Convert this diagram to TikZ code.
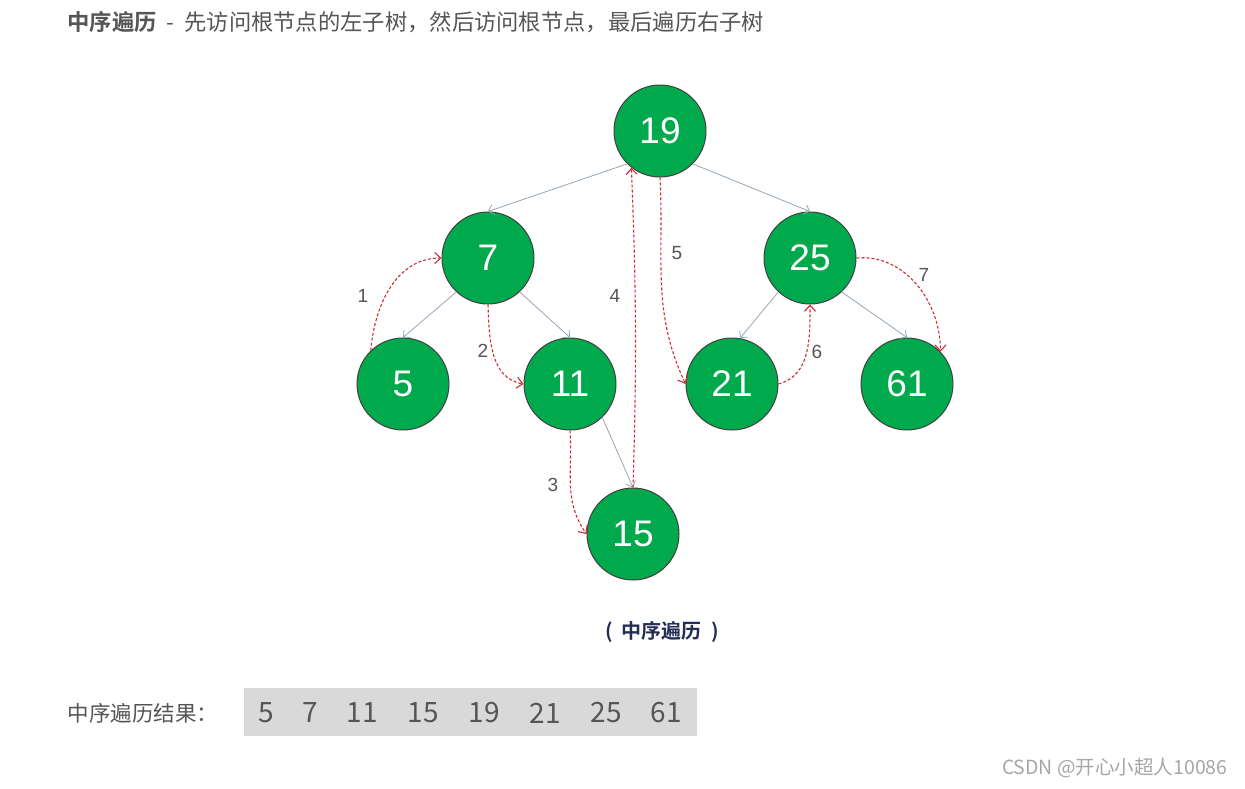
\documentclass[tikz,border=0pt]{standalone}
\usepackage{fontspec}
\setmainfont{Liberation Sans}
\newfontfamily\cjk[BoldFont={Noto Sans CJK SC Bold}]{Noto Sans CJK SC}
\usetikzlibrary{arrows.meta}
\definecolor{nodegreen}{RGB}{0,170,76}
\definecolor{edgegray}{RGB}{150,165,180}
\definecolor{walkred}{RGB}{205,45,55}
\definecolor{txtgray}{RGB}{85,85,85}
\definecolor{capnavy}{RGB}{35,45,85}
\definecolor{boxgray}{RGB}{217,217,217}

\begin{document}
\begin{tikzpicture}[x=1pt, y=1pt,
    treenode/.style={circle, draw=black!75, line width=1pt, fill=nodegreen,
        minimum size=92pt, inner sep=0pt, text=white,
        font=\fontsize{37}{37}\selectfont},
    edge/.style={draw=edgegray, line width=0.8pt,
        -{Straight Barb[length=5pt,width=10pt]}},
    walk/.style={draw=walkred, line width=1.1pt, dash pattern=on 3pt off 2pt,
        -{Straight Barb[length=6pt,width=11pt]}},
    stepnum/.style={text=txtgray, font=\fontsize{19}{19}\selectfont}]
\useasboundingbox (0,0) rectangle (1245,-788);

% ==== Header line ====
\node[anchor=west, text=txtgray, font=\cjk\fontsize{22.3}{22.3}\selectfont]
    (title) at (64,-22) {\textbf{中序遍历}\ \ -\ \ 先访问根节点的左子树，然后访问根节点，最后遍历右子树};

% ==== Tree ====
\node[treenode] (n19) at (660,-131) {19};
\node[treenode] (n7)  at (488,-258) {7};
\node[treenode] (n25) at (810,-258) {25};
\node[treenode] (n5)  at (403,-384) {5};
\node[treenode] (n11) at (570,-384) {11};
\node[treenode] (n21) at (732,-384) {21};
\node[treenode] (n61) at (907,-384) {61};
\node[treenode] (n15) at (633,-534) {15};

\draw[edge] (n19.225) -- (n7.north);
\draw[edge] (n19.-45) -- (n25.north);
\draw[edge] (n7.227)  -- (n5.north);
\draw[edge] (n7.-47)  -- (n11.north);
\draw[edge] (n25.227) -- (n21.80);
\draw[edge] (n25.-47) -- (n61.north);
\draw[edge] (n11.-46) -- (n15.north);

% ==== Visiting order (red dashed) ====
\draw[walk] (n5.134)   to[out=85, in=180] (n7.west);
\draw[walk] (n7.south) to[out=-88, in=170] (n11.west);
\draw[walk] (n11.south) to[out=-86, in=125] (n15.west);
\draw[walk] (n15.north) to[bend right=2] (n19.232);
\draw[walk] (n19.south) to[out=-87, in=115] (n21.west);
\draw[walk] (n21.east) to[out=15, in=-90] (n25.south);
\draw[walk] (n25.east) to[out=5, in=90] (n61.44);

\node[stepnum] (s1) at (363,-296) {1};
\node[stepnum] (s2) at (483,-351) {2};
\node[stepnum] (s3) at (553,-485) {3};
\node[stepnum] (s4) at (615,-296) {4};
\node[stepnum] (s5) at (677,-253) {5};
\node[stepnum] (s6) at (817,-352) {6};
\node[stepnum] (s7) at (924,-275) {7};

% ==== Caption ====
\node[text=capnavy, font=\cjk\bfseries\fontsize{20}{20}\selectfont]
    (caption) at (662,-632) {(\ \ 中序遍历\ \ )};

% ==== Result row ====
\node[anchor=west, text=txtgray, font=\cjk\fontsize{21.5}{21.5}\selectfont]
    (reslabel) at (64,-713) {中序遍历结果：};
\node[anchor=west, fill=boxgray, minimum width=453pt, minimum height=48pt, inner sep=0pt]
    (resbox) at (244,-712) {};
\foreach \v/\x in {5/266,7/310,11/362,15/423,19/484,21/545,25/606,61/666}
    \node[text=txtgray, font=\cjk\fontsize{28}{28}\selectfont] (r\v) at (\x,-713) {\v};

% ==== Watermark ====
\node[anchor=east, text=black!35, font=\cjk\fontsize{19.5}{19.5}\selectfont]
    (mark) at (1231,-768) {CSDN @开心小超人10086};
\end{tikzpicture}
\end{document}
